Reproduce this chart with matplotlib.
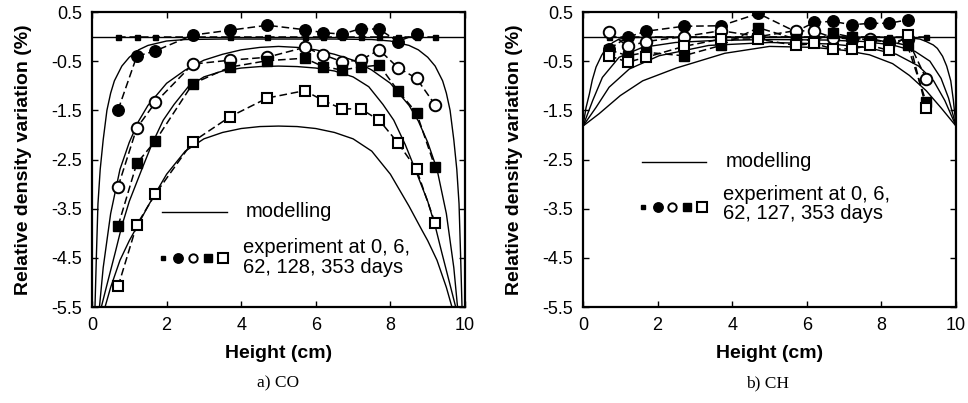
import matplotlib
matplotlib.use("Agg")
import matplotlib.pyplot as plt

plt.rcParams['font.family'] = ['Liberation Sans', 'DejaVu Sans']

# ---------------- data: panel a) CO ----------------
xa = [0.7, 1.2, 1.7, 2.7, 3.7, 4.7, 5.7, 6.2, 6.7, 7.2, 7.7, 8.2, 8.7, 9.2]
co_d0 = [0, 0, 0, 0, 0, 0, 0, 0, 0, 0, 0, 0, 0, 0]
co_d6 = [-1.49, -0.40, -0.29, 0.03, 0.13, 0.23, 0.14, 0.08, 0.05, 0.16, 0.15, -0.10, 0.05]
co_d62 = [-3.05, -1.86, -1.34, -0.56, -0.48, -0.42, -0.22, -0.37, -0.51, -0.48, -0.27, -0.63, -0.85, -1.39]
co_d128 = [-3.85, -2.58, -2.12, -0.96, -0.62, -0.49, -0.44, -0.61, -0.68, -0.62, -0.58, -1.10, -1.55, -2.66]
co_d353 = [-5.08, -3.83, -3.20, -2.14, -1.63, -1.25, -1.10, -1.30, -1.47, -1.47, -1.70, -2.16, -2.70, -3.80]

# modelling curves
co_m0_x = [0, 10]
co_m0_y = [0, 0]
co_m6_x = [0.08, 0.12, 0.16, 0.22, 0.3, 0.4, 0.5, 0.6, 0.8, 1.0, 1.25, 1.5, 2.0, 2.5, 3.5, 5.0,
           6.5, 7.5, 8.0, 8.5, 8.75, 9.0, 9.2, 9.4, 9.5, 9.6, 9.7, 9.78, 9.84, 9.88, 9.92]
co_m6_y = [-5.5, -4.4, -3.4, -2.7, -2.1, -1.5, -1.15, -0.9, -0.6, -0.42, -0.27, -0.18, -0.09, -0.06, -0.05, -0.05,
           -0.05, -0.06, -0.09, -0.18, -0.27, -0.42, -0.6, -0.9, -1.15, -1.5, -2.1, -2.7, -3.4, -4.4, -5.5]
co_m62_x = [0.2, 0.3, 0.5, 0.75, 1.0, 1.25, 1.5, 2.0, 2.5, 3.0, 3.5, 4.0, 4.5, 5.0,
            5.5, 6.0, 6.5, 7.0, 7.5, 8.0, 8.5, 8.75, 9.0, 9.25, 9.5, 9.7, 9.8]
co_m62_y = [-5.5, -4.7, -3.6, -2.7, -2.15, -1.72, -1.4, -0.95, -0.68, -0.48, -0.36, -0.27, -0.22, -0.2,
            -0.22, -0.27, -0.36, -0.48, -0.68, -0.95, -1.4, -1.72, -2.15, -2.7, -3.6, -4.7, -5.5]
co_m128_x = [0.25, 0.4, 0.62, 0.8, 1.0, 1.33, 1.6, 1.91, 2.2, 2.58, 3.0, 3.5, 4.0, 4.5, 5.0,
             5.5, 6.0, 6.5, 7.0, 7.42, 7.8, 8.09, 8.4, 8.67, 9.0, 9.2, 9.38, 9.6, 9.75]
co_m128_y = [-5.5, -5.05, -4.4, -3.85, -3.35, -2.71, -2.2, -1.7, -1.38, -1.02, -0.82, -0.7, -0.64, -0.61, -0.6,
             -0.61, -0.64, -0.7, -0.82, -1.02, -1.38, -1.7, -2.2, -2.71, -3.35, -3.85, -4.4, -5.05, -5.5]
co_m353_x = [0.35, 0.5, 0.75, 1.0, 1.16, 1.5, 2.0, 2.5, 3.0, 3.5, 4.0, 4.5, 5.0,
             5.5, 6.0, 6.5, 7.0, 7.5, 8.0, 8.5, 8.84, 9.0, 9.25, 9.5, 9.65]
co_m353_y = [-5.5, -5.1, -4.55, -4.15, -3.93, -3.45, -2.8, -2.33, -2.08, -1.95, -1.87, -1.83, -1.82,
             -1.83, -1.87, -1.95, -2.08, -2.33, -2.8, -3.45, -3.93, -4.15, -4.55, -5.1, -5.5]

# ---------------- data: panel b) CH ----------------
xb = [0.7, 1.2, 1.7, 2.7, 3.7, 4.7, 5.7, 6.2, 6.7, 7.2, 7.7, 8.2, 8.7, 9.2]
ch_d0 = [0, 0, 0, 0, 0, 0, 0, 0, 0, 0, 0, 0, 0, 0]
ch_d6 = [-0.25, -0.01, 0.11, 0.21, 0.22, 0.47, 0.10, 0.29, 0.31, 0.24, 0.27, 0.27, 0.34]
ch_d62 = [0.09, -0.20, -0.10, 0.00, 0.12, 0.00, 0.12, 0.11, -0.02, -0.05, -0.04, -0.12, -0.05, -0.86]
ch_d127 = [-0.27, -0.39, -0.32, -0.39, -0.18, 0.18, -0.05, -0.08, 0.07, -0.01, -0.08, -0.10, -0.18, -1.33]
ch_d353 = [-0.39, -0.52, -0.42, -0.20, -0.05, -0.05, -0.18, -0.14, -0.25, -0.25, -0.18, -0.28, 0.04, -1.45]

ch_m0_x = [0, 10]
ch_m0_y = [0, 0]
ch_m6_x = [0, 0.08, 0.17, 0.25, 0.35, 0.5, 0.61, 0.8, 0.97, 1.3, 2.0, 5.0,
           8.0, 8.7, 9.03, 9.2, 9.39, 9.5, 9.64, 9.75, 9.86, 9.93, 10]
ch_m6_y = [-1.82, -1.45, -1.17, -0.88, -0.62, -0.38, -0.25, -0.12, -0.05, -0.02, -0.01, -0.01,
           -0.01, -0.02, -0.05, -0.1, -0.17, -0.24, -0.4, -0.6, -0.9, -1.3, -1.82]
ch_m62_x = [0, 0.26, 0.52, 0.97, 1.59, 2.48, 3.5, 5.0, 6.5, 7.52, 8.3, 8.9, 9.3, 9.6, 9.8, 10]
ch_m62_y = [-1.82, -1.3, -0.83, -0.42, -0.22, -0.12, -0.08, -0.06, -0.07, -0.1, -0.17, -0.3, -0.5, -0.85, -1.25, -1.82]
ch_m127_x = [0, 0.35, 0.7, 1.24, 2.04, 3.37, 5.0, 6.63, 7.6, 8.4, 9.0, 9.4, 9.7, 10]
ch_m127_y = [-1.82, -1.44, -1.03, -0.66, -0.39, -0.18, -0.12, -0.15, -0.22, -0.36, -0.6, -0.9, -1.3, -1.82]
ch_m353_x = [0, 0.43, 1.0, 1.6, 2.5, 3.8, 5.0, 6.2, 7.0, 7.68, 8.3, 8.75, 9.2, 9.6, 10]
ch_m353_y = [-1.82, -1.57, -1.2, -0.9, -0.64, -0.34, -0.2, -0.22, -0.28, -0.37, -0.55, -0.79, -1.1, -1.45, -1.82]

yticks = [0.5, -0.5, -1.5, -2.5, -3.5, -4.5, -5.5]
ytick_labels = ['0.5', '-0.5', '-1.5', '-2.5', '-3.5', '-4.5', '-5.5']
xticks = [0, 2, 4, 6, 8, 10]
xtick_labels = ['0', '2', '4', '6', '8', '10']

W, H = 968, 403
fig = plt.figure(figsize=(W / 100, H / 100), dpi=100)
ax1 = fig.add_axes([92 / W, 1 - 307 / H, 373 / W, 295 / H])
ax2 = fig.add_axes([583 / W, 1 - 307 / H, 373 / W, 295 / H])

dash = (0, (5, 2.5))
mcirc = 8.3
msq = 7.6


def draw_series(ax, x, d0, d6, d62, d128, d353):
    ax.plot(x[:len(d0)], d0, color='black', ls=dash, lw=1.1, marker='s', ms=3.6,
            mfc='black', mec='black', zorder=5)
    ax.plot(x[:len(d6)], d6, color='black', ls=dash, lw=1.1, marker='o', ms=mcirc,
            mfc='black', mec='black', zorder=5)
    ax.plot(x[:len(d62)], d62, color='black', ls=dash, lw=1.1, marker='o', ms=mcirc,
            mfc='white', mec='black', mew=1.4, zorder=5)
    ax.plot(x[:len(d128)], d128, color='black', ls=dash, lw=1.1, marker='s', ms=msq,
            mfc='black', mec='black', zorder=5)
    ax.plot(x[:len(d353)], d353, color='black', ls=dash, lw=1.1, marker='s', ms=msq,
            mfc='white', mec='black', mew=1.5, zorder=5)


for ax in (ax1, ax2):
    ax.set_xlim(0, 10)
    ax.set_ylim(-5.5, 0.5)
    ax.set_xticks(xticks)
    ax.set_xticklabels(xtick_labels)
    ax.set_yticks(yticks)
    ax.set_yticklabels(ytick_labels)
    ax.tick_params(direction='in', top=True, right=True, length=4, width=1,
                   labelsize=13, pad=7)
    for s in ax.spines.values():
        s.set_linewidth(1.6)
    ax.set_xlabel('Height (cm)', fontsize=14, fontweight='bold', labelpad=8)
    ax.set_ylabel('Relative density variation (%)', fontsize=14, fontweight='bold', labelpad=14)

# panel a modelling curves
for xs, ys in [(co_m0_x, co_m0_y), (co_m6_x, co_m6_y), (co_m62_x, co_m62_y),
               (co_m128_x, co_m128_y), (co_m353_x, co_m353_y)]:
    ax1.plot(xs, ys, color='black', lw=1.0, zorder=3)
draw_series(ax1, xa, co_d0, co_d6, co_d62, co_d128, co_d353)

for xs, ys in [(ch_m0_x, ch_m0_y), (ch_m6_x, ch_m6_y), (ch_m62_x, ch_m62_y),
               (ch_m127_x, ch_m127_y), (ch_m353_x, ch_m353_y)]:
    ax2.plot(xs, ys, color='black', lw=1.0, zorder=3)
draw_series(ax2, xb, ch_d0, ch_d6, ch_d62, ch_d127, ch_d353)


def legend(ax, xline, ymod, xmk, ymk, xtext, ytext, text):
    t = ax.transAxes
    ax.plot([xline, xline + 0.174], [ymod, ymod], color='black', lw=1.0, transform=t, clip_on=False)
    ax.text(xline + 0.225, ymod, 'modelling', fontsize=14.5, va='center', ha='left', transform=t)
    mk = [('s', 'black', 3.4, 1.0), ('o', 'black', 6.8, 1.0), ('o', 'white', 6.0, 1.4),
          ('s', 'black', 6.2, 1.0), ('s', 'white', 6.6, 1.5)]
    for i, (m, fc, s, ew) in enumerate(mk):
        ax.plot([xmk + i * 0.0398], [ymk], marker=m, ms=s, mfc=fc, mec='black',
                mew=ew, transform=t, clip_on=False, ls='none')
    ax.text(xtext, ytext, text, fontsize=14.5, va='center', ha='left',
            linespacing=1.05, transform=t)


legend(ax1, 0.187, 0.323, 0.191, 0.165, 0.405, 0.169, 'experiment at 0, 6,\n62, 128, 353 days')
legend(ax2, 0.157, 0.4925, 0.16, 0.34, 0.375, 0.349, 'experiment at 0, 6,\n62, 127, 353 days')

fig.text(278 / W, 1 - 383 / H, 'a) CO', family=['Liberation Serif'], fontsize=12.5,
         ha='center', va='center')
fig.text(768 / W, 1 - 383 / H, 'b) CH', family=['Liberation Serif'], fontsize=12.5,
         ha='center', va='center')

fig.savefig('out.png', dpi=100)
